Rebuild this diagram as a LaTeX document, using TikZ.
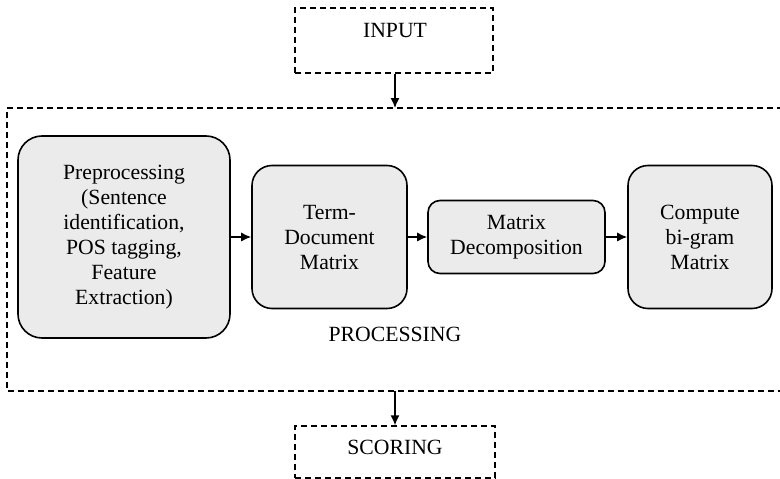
\documentclass[tikz,border=0pt]{standalone}
\usepackage{fontspec}
\setmainfont{Liberation Serif}
\usetikzlibrary{arrows.meta}
\begin{document}
\begin{tikzpicture}[x=1pt,y=-1pt,
  every node/.style={font=\fontsize{21.7}{25}\selectfont},
  dbox/.style={draw, dashed, dash pattern=on 6pt off 4pt, line width=1.3pt, inner sep=0pt},
  pbox/.style={draw, line width=1.6pt, fill=black!8, align=center, inner sep=0pt},
  arr/.style={line width=1.3pt, -{Latex[length=10pt,width=9pt]}},
  lbl/.style={inner sep=0pt, anchor=center}]
\useasboundingbox (0,0) rectangle (780,479);
% INPUT
\node[dbox, minimum width=198pt, minimum height=65pt] (inbox) at (394,40.5) {};
\node[lbl] (intext) at (395,31) {INPUT};
% processing region
\coordinate (ptl) at (7,108);
\coordinate (ptr) at (783,108);
\coordinate (pbl) at (7,391);
\coordinate (pbr) at (783,391);
\draw[dash pattern=on 6pt off 4pt, line width=1.3pt] (ptr) -- (ptl) -- (pbl) -- (pbr);
\coordinate (pin) at (395,108);
\coordinate (pout) at (395,391);
% boxes
\node[pbox, rounded corners=24pt, minimum width=212pt, minimum height=202pt] (pre) at (124,237)
  {Preprocessing\\(Sentence\\identification,\\POS tagging,\\Feature\\Extraction)};
\node[pbox, rounded corners=20pt, minimum width=155pt, minimum height=143pt] (tdm) at (329.5,237)
  {Term-\\Document\\Matrix};
\node[pbox, rounded corners=12pt, minimum width=177pt, minimum height=73pt] (md) at (516.5,237)
  {Matrix\\Decomposition};
\node[pbox, rounded corners=20pt, minimum width=144pt, minimum height=143pt] (cbm) at (700,237)
  {Compute\\bi-gram\\Matrix};
\node[lbl] (ptext) at (395,334) {PROCESSING};
% SCORING
\node[dbox, minimum width=200pt, minimum height=52pt] (scbox) at (395,452) {};
\node[lbl] (sctext) at (395,447) {SCORING};
% arrows
\draw[arr] (inbox.south -| pin) -- (pin);
\draw[arr] (pre) -- (tdm);
\draw[arr] (tdm) -- (md);
\draw[arr] (md) -- (cbm);
\draw[arr] (pout) -- (scbox.north -| pout);
\end{tikzpicture}
\end{document}
